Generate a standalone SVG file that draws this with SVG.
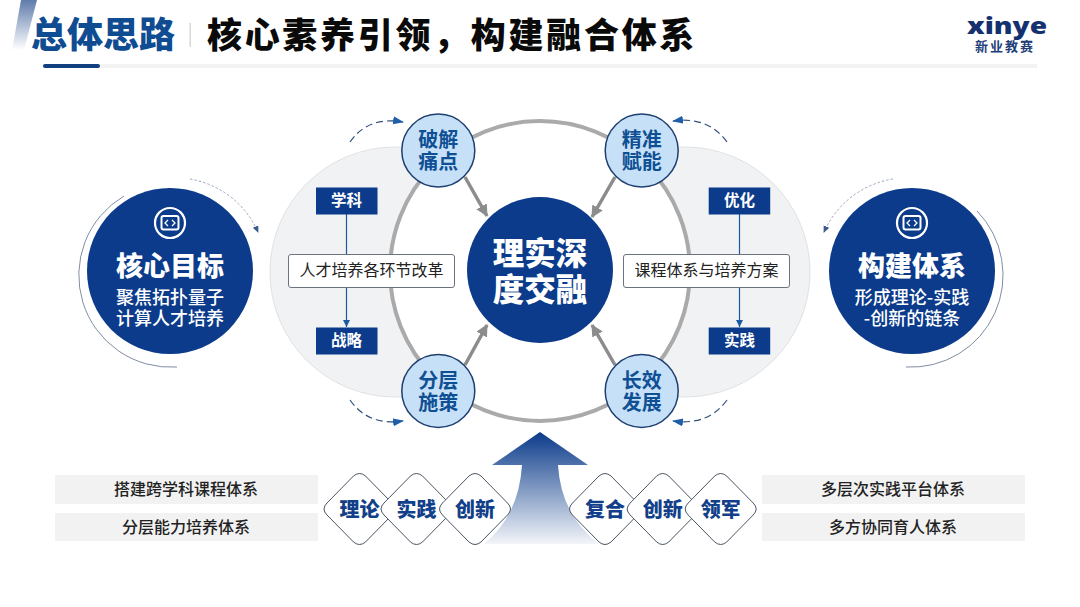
<svg xmlns="http://www.w3.org/2000/svg" width="1080" height="607" viewBox="0 0 1080 607">
<style>
text{font-family:"Noto Sans CJK SC","Noto Sans",sans-serif;text-anchor:middle;dominant-baseline:central;transform:translateY(-2px)}
.navy{fill:#0b3b8a}
.w{fill:#fff}
.m{font-weight:500}
.h{font-weight:900}
.sc{fill:#c6e0f8;stroke:#1e3f70;stroke-width:1.5}
.sct{font-size:20px;font-weight:700;fill:#0f4f94}
.lens{fill:#f1f2f4;stroke:#e0e1e4;stroke-width:1}
.tag{font-size:15.5px;font-weight:700;fill:#fff}
.wb{fill:#fff;stroke:#6b7280;stroke-width:1}
.wbt{font-size:16px;fill:#222}
.bar{fill:#f2f2f2}
.bart{font-size:16px;fill:#222;font-weight:500}
.dia{fill:#fff;stroke:#4b5563;stroke-width:1;stroke-linejoin:round}
.diat{font-size:20px;font-weight:900;fill:#123f8a}
.arrow{stroke:#8c8c8c;stroke-width:3.5;fill:none;marker-end:url(#ga)}
.dash{stroke:#2f4f7a;stroke-width:1.2;fill:none;stroke-dasharray:7 4;marker-end:url(#ba)}
.vl{stroke:#1b5aa0;stroke-width:1.2;fill:none}
.thin{stroke:#7f8da3;stroke-width:1;fill:none}
.dot{stroke:#98a6bf;stroke-width:1;fill:none;stroke-dasharray:2.5 2;marker-end:url(#da)}
</style>
<defs>
<linearGradient id="up" x1="0" y1="0" x2="0" y2="1"><stop offset="0" stop-color="#0b3b8a"/><stop offset="1" stop-color="#0b3b8a" stop-opacity=".05"/></linearGradient>
<linearGradient id="corner" x1="0" y1="0" x2="0" y2="1"><stop offset="0" stop-color="#5f7cab"/><stop offset="1" stop-color="#fff"/></linearGradient>
<marker id="ga" markerUnits="userSpaceOnUse" markerWidth="14" markerHeight="14" refX="11" refY="6" orient="auto"><path d="M0 0L12 6L0 12z" fill="#8c8c8c"/></marker>
<marker id="ba" markerUnits="userSpaceOnUse" markerWidth="12" markerHeight="10" refX="10" refY="4" orient="auto"><path d="M0 0L11 4L0 8z" fill="#1f5ea8"/></marker>
<marker id="da" markerUnits="userSpaceOnUse" markerWidth="8" markerHeight="8" refX="6" refY="3" orient="auto"><path d="M0 0L7 3L0 6z" fill="#3c5a8e"/></marker>
<marker id="va" markerUnits="userSpaceOnUse" markerWidth="9" markerHeight="8" refX="7" refY="3.5" orient="auto"><path d="M0 0L7 3.5L0 7z" fill="#1b5aa0"/></marker>
<g id="ic"><circle r="15" fill="none" stroke="#fff" stroke-width="2.200"/><rect x="-8.500" y="-7" width="17" height="13.500" rx="2" fill="none" stroke="#fff" stroke-width="2"/><path d="M-2 -3L-5 0L-2 3M2 -3L5 0L2 3" fill="none" stroke="#fff" stroke-width="1.300"/></g>
</defs>
<rect width="1080" height="607" fill="#fff"/>

<g id="header">
<polygon points="21,0 37,0 24,50 12,50" fill="url(#corner)"/>
<rect x="100" y="64" width="937" height="4" fill="#f3f3f3"/>
<rect x="43" y="64" width="57" height="4" rx="2" fill="#123f7f"/>
<text x="103" y="34" font-size="36" font-weight="900" fill="#0f4c92">总体思路</text>
<rect x="189.500" y="23" width="1.500" height="24" fill="#d5d8dc"/>
<text x="452" y="34" font-size="35" font-weight="900" fill="#0a0a0a" letter-spacing="2.700">核心素养引领，构建融合体系</text>
</g>

<g id="logo">
<text x="1007" y="27" font-size="23" style="font-family:'Open Sans',sans-serif" font-weight="800" fill="#14306f" textLength="80" lengthAdjust="spacingAndGlyphs">xinye</text>
<text x="1005" y="47" font-size="13" font-weight="700" fill="#1f3f78" letter-spacing="2">新业教赛</text>
</g>

<g id="backdrop">
<circle class="lens" cx="395" cy="272" r="125"/>
<circle class="lens" cx="685" cy="272" r="125"/>
<circle cx="540" cy="271" r="150" fill="#fff" stroke="#aaaaaa" stroke-width="4"/>
</g>

<g id="connectors">
<line class="arrow" x1="465" y1="177" x2="487" y2="216"/>
<line class="arrow" x1="615" y1="177" x2="592" y2="217"/>
<line class="arrow" x1="465" y1="365" x2="487" y2="325"/>
<line class="arrow" x1="615" y1="365" x2="592" y2="325"/>
<path class="dash" d="M350 142Q368 116 403 122"/>
<path class="dash" d="M350 400Q368 426 403 421"/>
<path class="dash" d="M727 142Q708 116 673 121"/>
<path class="dash" d="M727 400Q708 426 673 421"/>
<line class="vl" x1="346.500" y1="214" x2="346.500" y2="254"/>
<line class="vl" x1="346.500" y1="288" x2="346.500" y2="327" marker-end="url(#va)"/>
<line class="vl" x1="739.500" y1="214" x2="739.500" y2="254"/>
<line class="vl" x1="739.500" y1="288" x2="739.500" y2="327" marker-end="url(#va)"/>
<path class="thin" d="M124 196A92 92 0 0 0 177 367"/>
<path class="dot" d="M190 179A91 91 0 0 1 258 232"/>
<path class="thin" d="M906 367A92 92 0 0 0 977 211"/>
<path class="dot" d="M893 179A91 91 0 0 0 824 232"/>
</g>

<g id="goal">
<circle class="navy" cx="170" cy="271" r="83"/>
<use href="#ic" x="170" y="223"/>
<text class="w h" x="170" y="266" font-size="27">核心目标</text>
<text class="w m" font-size="18"><tspan x="170" y="298">聚焦拓扑量子</tspan><tspan x="170" y="319">计算人才培养</tspan></text>
</g>
<g id="system">
<circle class="navy" cx="912" cy="271" r="83"/>
<use href="#ic" x="912" y="223"/>
<text class="w h" x="912" y="266" font-size="27">构建体系</text>
<text class="w m" font-size="18"><tspan x="912" y="298">形成理论-实践</tspan><tspan x="912" y="319">-创新的链条</tspan></text>
</g>
<g id="center">
<circle class="navy" cx="540" cy="270" r="73"/>
<text class="w h" font-size="31.500"><tspan x="540" y="253">理实深</tspan><tspan x="540" y="289">度交融</tspan></text>
</g>

<g id="n-pojie"><circle class="sc" cx="438.300" cy="150.500" r="36.500"/><text class="sct"><tspan x="438.300" y="140">破解</tspan><tspan x="438.300" y="162">痛点</tspan></text></g>
<g id="n-jingzhun"><circle class="sc" cx="641.700" cy="150.500" r="36.500"/><text class="sct"><tspan x="641.700" y="140">精准</tspan><tspan x="641.700" y="162">赋能</tspan></text></g>
<g id="n-fenceng"><circle class="sc" cx="438.300" cy="391" r="36.500"/><text class="sct"><tspan x="438.300" y="381">分层</tspan><tspan x="438.300" y="403">施策</tspan></text></g>
<g id="n-changxiao"><circle class="sc" cx="641.700" cy="391" r="36.500"/><text class="sct"><tspan x="641.700" y="381">长效</tspan><tspan x="641.700" y="403">发展</tspan></text></g>

<g id="t-xueke"><rect class="navy" x="316" y="187.500" width="61.500" height="27"/><text class="tag" x="346.500" y="201">学科</text></g>
<g id="t-zhanlue"><rect class="navy" x="316" y="327.500" width="61.500" height="27"/><text class="tag" x="346.500" y="341">战略</text></g>
<g id="t-youhua"><rect class="navy" x="708.700" y="187.500" width="61.500" height="27"/><text class="tag" x="739.500" y="201">优化</text></g>
<g id="t-shijian"><rect class="navy" x="708.700" y="327.500" width="61.500" height="27"/><text class="tag" x="739.500" y="341">实践</text></g>
<g id="b-left"><rect class="wb" x="288.500" y="254.500" width="166" height="33" rx="2.500"/><text class="wbt" x="371.500" y="271">人才培养各环节改革</text></g>
<g id="b-right"><rect class="wb" x="623.500" y="254.500" width="166" height="33" rx="2.500"/><text class="wbt" x="706.500" y="271">课程体系与培养方案</text></g>

<g id="up-arrow">
<path d="M540 432L588 465H558Q561 515 599 544H484Q519 515 522 465H492z" fill="url(#up)"/>
</g>

<g id="bars">
<g id="bar1"><rect class="bar" x="55" y="475" width="263" height="29"/><text class="bart" x="186" y="490">搭建跨学科课程体系</text></g>
<g id="bar2"><rect class="bar" x="55" y="513" width="263" height="28"/><text class="bart" x="186" y="528">分层能力培养体系</text></g>
<g id="bar3"><rect class="bar" x="762" y="475" width="263" height="29"/><text class="bart" x="893" y="490">多层次实践平台体系</text></g>
<g id="bar4"><rect class="bar" x="762" y="513" width="263" height="28"/><text class="bart" x="893" y="528">多方协同育人体系</text></g>
</g>

<g id="d1"><path class="dia" d="M353.500 476Q359.500 471 365.500 476L392 503Q398 509 392 515L365.500 542Q359.500 547 353.500 542L327 515Q321 509 327 503z"/><text class="diat" x="359.500" y="510">理论</text></g>
<g id="d2"><path class="dia" d="M410.500 476Q416.500 471 422.500 476L449 503Q455 509 449 515L422.500 542Q416.500 547 410.500 542L384 515Q378 509 384 503z"/><text class="diat" x="416.500" y="510">实践</text></g>
<g id="d3"><path class="dia" d="M469 476Q475 471 481 476L507.500 503Q513.500 509 507.500 515L481 542Q475 547 469 542L442.500 515Q436.500 509 442.500 503z"/><text class="diat" x="475" y="510">创新</text></g>
<g id="d4"><path class="dia" d="M599 476Q605 471 611 476L637.500 503Q643.500 509 637.500 515L611 542Q605 547 599 542L572.500 515Q566.500 509 572.500 503z"/><text class="diat" x="605" y="510">复合</text></g>
<g id="d5"><path class="dia" d="M656.700 476Q662.700 471 668.700 476L695.200 503Q701.200 509 695.200 515L668.700 542Q662.700 547 656.700 542L630.200 515Q624.200 509 630.200 503z"/><text class="diat" x="662.700" y="510">创新</text></g>
<g id="d6"><path class="dia" d="M714.700 476Q720.700 471 726.700 476L753.200 503Q759.200 509 753.200 515L726.700 542Q720.700 547 714.700 542L688.200 515Q682.200 509 688.200 503z"/><text class="diat" x="720.700" y="510">领军</text></g>
</svg>
